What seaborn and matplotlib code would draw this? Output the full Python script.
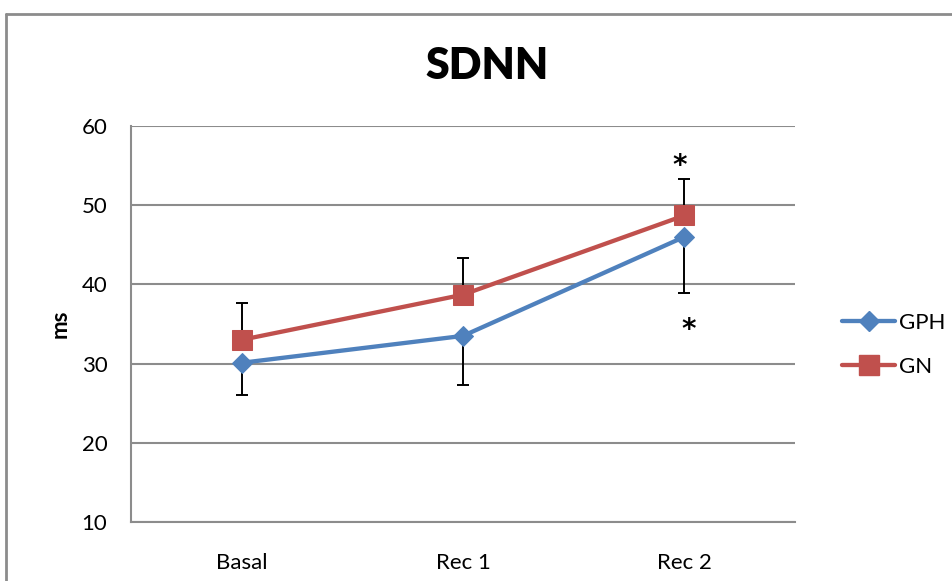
import numpy as np
import pandas as pd
import matplotlib
matplotlib.use("Agg")
import matplotlib.pyplot as plt
from matplotlib.lines import Line2D
import seaborn as sns

categories = ["Basal", "Rec 1", "Rec 2"]
gph_values = [30.1, 33.5, 46.0]
gn_values = [33.0, 38.7, 48.7]
gph_err_low = [4.1, 6.2, 7.1]
gn_err_high = [4.7, 4.6, 4.6]
y_ticks = [10, 20, 30, 40, 50, 60]
star_positions = [(1.98, 54.9), (2.02, 34.2)]

sns.set_style("white")
plt.rcParams["font.family"] = ["Lato", "DejaVu Sans"]
plt.rcParams["text.color"] = "black"
plt.rcParams["xtick.labelcolor"] = "black"
plt.rcParams["ytick.labelcolor"] = "black"
plt.rcParams["axes.labelcolor"] = "black"

BLUE = "#4F81BD"
RED = "#C0504D"
GRID = "#8C8C8C"

fig = plt.figure(figsize=(9.53, 5.81), dpi=100)
ax = fig.add_axes([131/953, 1-522/581, (795-131)/953, (522-126)/581])

df = pd.DataFrame({
    "x": list(range(len(categories))) * 2,
    "value": gph_values + gn_values,
    "group": ["GPH"] * 3 + ["GN"] * 3,
})

xs = np.arange(len(categories))
ax.errorbar(xs, gph_values, yerr=[gph_err_low, [0]*3], fmt="none",
            ecolor="black", elinewidth=1.4, capsize=4.5, capthick=1.4, zorder=2)
ax.errorbar(xs, gn_values, yerr=[[0]*3, gn_err_high], fmt="none",
            ecolor="black", elinewidth=1.4, capsize=4.5, capthick=1.4, zorder=2)

sns.lineplot(data=df[df.group == "GPH"], x="x", y="value", ax=ax, color=BLUE,
             marker="D", markersize=9.8, markeredgecolor=BLUE, linewidth=3.1,
             zorder=3, legend=False)
sns.lineplot(data=df[df.group == "GN"], x="x", y="value", ax=ax, color=RED,
             marker="s", markersize=14, markeredgecolor=RED, linewidth=3.1,
             zorder=4, legend=False)

for (sx, sy) in star_positions:
    ax.text(sx, sy, "*", ha="center", va="center", fontsize=20, color="black",
            fontweight="bold", family=["DejaVu Sans"])

ax.set_xlim(-0.5, len(categories) - 0.5)
ax.set_ylim(10, 60)
ax.set_yticks(y_ticks)
ax.set_yticklabels([str(v) for v in y_ticks], fontsize=16)
ax.set_xticks(xs)
ax.set_xticklabels(categories, fontsize=16)
ax.set_xticks(np.arange(-0.5, len(categories), 1.0), minor=True)
ax.tick_params(axis="x", which="major", length=0, pad=22)
ax.tick_params(axis="x", which="minor", length=8, width=1.5, color=GRID, direction="out")
ax.tick_params(axis="y", which="major", length=9, width=1.5, color=GRID, direction="out", pad=8)
ax.grid(axis="y", color=GRID, linewidth=1.5)
ax.set_axisbelow(True)
for s in ["top", "right"]:
    ax.spines[s].set_visible(False)
for s in ["left", "bottom"]:
    ax.spines[s].set_color(GRID)
    ax.spines[s].set_linewidth(1.5)
ax.set_xlabel("")
ax.set_ylabel("ms", fontsize=16, fontweight="bold", labelpad=8)
fig.text(487/953, 1-66/581, "SDNN", fontsize=31, fontweight="heavy",
         ha="center", va="center")

handles = [
    Line2D([], [], color=BLUE, marker="D", markersize=9.8, linewidth=3.1),
    Line2D([], [], color=RED, marker="s", markersize=14, linewidth=3.1),
]
fig.legend(handles, ["GPH", "GN"], loc="center left", bbox_to_anchor=(833/953, 1-345/581),
           frameon=False, fontsize=16, handlelength=2.4, handletextpad=0.15,
           labelspacing=1.1, borderaxespad=0)

fig.add_artist(Line2D([6/953, 6/953], [0, 1-14/581], transform=fig.transFigure,
                      color=GRID, linewidth=2))
fig.add_artist(Line2D([6/953, 1], [1-14/581, 1-14/581], transform=fig.transFigure,
                      color=GRID, linewidth=2))

fig.savefig("out.png", dpi=100)
